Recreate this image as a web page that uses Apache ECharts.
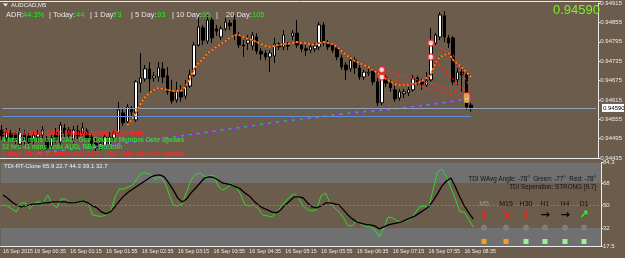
<!DOCTYPE html>
<html>
<head>
<meta charset="utf-8">
<script src="https://cdn.jsdelivr.net/npm/echarts@6/dist/echarts.min.js"></script>
<style>
html, body { margin: 0; padding: 0; background: #6b5c4c; }
#chart { width: 625px; height: 258px; }
</style>
</head>
<body>
<div id="chart"></div>
<script>
// M5 bars, 16 Sep 2015 from 00:00; extra empty slots on the right (chart shift)
var slotCount = 134;
var lastBar = 105;
var times = [];
for ( var i = 0; i < slotCount; i++ ) {
    var m = i * 5;
    times.push( ( '0' + Math.floor( m / 60 ) ).slice( -2 ) + ':' + ( '0' + m % 60 ).slice( -2 ) );
}

// [open, close, low, high]
var ohlc = [
    [0.94522, 0.94503, 0.94491, 0.94537], [0.94497, 0.94515, 0.94488, 0.94528], [0.94512, 0.94500, 0.94484, 0.94522],
    [0.94509, 0.94491, 0.94478, 0.94519], [0.94478, 0.94515, 0.94469, 0.94528], [0.94509, 0.94491, 0.94472, 0.94522],
    [0.94503, 0.94484, 0.94472, 0.94512], [0.94494, 0.94506, 0.94478, 0.94515], [0.94500, 0.94509, 0.94488, 0.94522],
    [0.94506, 0.94522, 0.94494, 0.94534], [0.94491, 0.94466, 0.94460, 0.94503], [0.94472, 0.94497, 0.94463, 0.94506],
    [0.94515, 0.94491, 0.94481, 0.94528], [0.94484, 0.94537, 0.94472, 0.94547], [0.94528, 0.94512, 0.94500, 0.94540],
    [0.94522, 0.94506, 0.94491, 0.94531], [0.94491, 0.94522, 0.94481, 0.94534], [0.94519, 0.94503, 0.94494, 0.94537],
    [0.94512, 0.94528, 0.94503, 0.94544], [0.94519, 0.94497, 0.94488, 0.94528], [0.94500, 0.94481, 0.94472, 0.94512],
    [0.94481, 0.94466, 0.94457, 0.94497], [0.94469, 0.94481, 0.94460, 0.94491], [0.94469, 0.94500, 0.94463, 0.94509],
    [0.94475, 0.94500, 0.94466, 0.94515], [0.94497, 0.94512, 0.94488, 0.94522], [0.94512, 0.94584, 0.94506, 0.94609],
    [0.94575, 0.94544, 0.94534, 0.94590], [0.94547, 0.94593, 0.94537, 0.94603], [0.94590, 0.94578, 0.94565, 0.94596],
    [0.94553, 0.94671, 0.94547, 0.94677], [0.94667, 0.94683, 0.94637, 0.94760], [0.94680, 0.94711, 0.94671, 0.94723],
    [0.94711, 0.94680, 0.94637, 0.94732], [0.94683, 0.94689, 0.94671, 0.94701], [0.94686, 0.94714, 0.94671, 0.94732],
    [0.94711, 0.94686, 0.94667, 0.94732], [0.94689, 0.94640, 0.94631, 0.94717], [0.94643, 0.94612, 0.94603, 0.94677],
    [0.94615, 0.94640, 0.94606, 0.94671], [0.94640, 0.94624, 0.94609, 0.94661], [0.94627, 0.94658, 0.94618, 0.94677],
    [0.94658, 0.94692, 0.94652, 0.94708], [0.94692, 0.94785, 0.94686, 0.94794], [0.94785, 0.94841, 0.94779, 0.94872],
    [0.94838, 0.94800, 0.94785, 0.94847], [0.94797, 0.94862, 0.94788, 0.94878], [0.94862, 0.94807, 0.94791, 0.94869],
    [0.94835, 0.94828, 0.94813, 0.94847], [0.94810, 0.94835, 0.94800, 0.94844], [0.94835, 0.94856, 0.94828, 0.94869],
    [0.94853, 0.94844, 0.94831, 0.94862], [0.94862, 0.94816, 0.94800, 0.94878], [0.94816, 0.94785, 0.94776, 0.94825],
    [0.94785, 0.94782, 0.94748, 0.94800], [0.94791, 0.94800, 0.94769, 0.94816], [0.94782, 0.94816, 0.94769, 0.94825],
    [0.94810, 0.94766, 0.94757, 0.94822], [0.94766, 0.94757, 0.94738, 0.94776], [0.94760, 0.94748, 0.94738, 0.94769],
    [0.94748, 0.94760, 0.94701, 0.94769], [0.94751, 0.94788, 0.94729, 0.94807], [0.94788, 0.94779, 0.94769, 0.94794],
    [0.94779, 0.94816, 0.94769, 0.94831], [0.94785, 0.94782, 0.94769, 0.94794], [0.94813, 0.94822, 0.94800, 0.94831],
    [0.94822, 0.94785, 0.94776, 0.94862], [0.94785, 0.94773, 0.94763, 0.94794], [0.94773, 0.94769, 0.94751, 0.94785],
    [0.94769, 0.94779, 0.94760, 0.94788], [0.94773, 0.94782, 0.94763, 0.94791], [0.94779, 0.94847, 0.94769, 0.94856],
    [0.94847, 0.94791, 0.94782, 0.94856], [0.94791, 0.94779, 0.94769, 0.94800], [0.94785, 0.94769, 0.94760, 0.94791],
    [0.94776, 0.94748, 0.94738, 0.94782], [0.94745, 0.94717, 0.94708, 0.94754], [0.94723, 0.94708, 0.94677, 0.94732],
    [0.94711, 0.94738, 0.94701, 0.94748], [0.94738, 0.94714, 0.94695, 0.94748], [0.94714, 0.94686, 0.94677, 0.94723],
    [0.94686, 0.94701, 0.94677, 0.94708], [0.94698, 0.94701, 0.94689, 0.94711], [0.94704, 0.94671, 0.94661, 0.94714],
    [0.94671, 0.94606, 0.94596, 0.94683], [0.94606, 0.94686, 0.94599, 0.94698], [0.94683, 0.94667, 0.94655, 0.94692],
    [0.94667, 0.94652, 0.94640, 0.94677], [0.94646, 0.94618, 0.94609, 0.94658], [0.94621, 0.94640, 0.94612, 0.94649],
    [0.94634, 0.94640, 0.94621, 0.94649], [0.94637, 0.94646, 0.94627, 0.94655], [0.94646, 0.94680, 0.94640, 0.94692],
    [0.94683, 0.94667, 0.94658, 0.94689], [0.94671, 0.94664, 0.94646, 0.94680], [0.94661, 0.94674, 0.94655, 0.94701],
    [0.94677, 0.94791, 0.94671, 0.94838], [0.94791, 0.94816, 0.94782, 0.94822], [0.94810, 0.94878, 0.94800, 0.94887],
    [0.94875, 0.94810, 0.94794, 0.94890], [0.94807, 0.94791, 0.94776, 0.94816], [0.94807, 0.94671, 0.94661, 0.94813],
    [0.94677, 0.94701, 0.94661, 0.94714], [0.94701, 0.94692, 0.94640, 0.94720], [0.94692, 0.94593, 0.94584, 0.94701],
    [0.94599, 0.94590, 0.94578, 0.94606]
];

// dotted moving average, starts at bar 28
var maStart = 28;
var maValues = [
    0.94537, 0.94553, 0.94578, 0.94603, 0.94624, 0.94637, 0.94646, 0.94652, 0.94649, 0.94646,
    0.94643, 0.94643, 0.94643, 0.94655, 0.94680, 0.94711, 0.94729, 0.94742, 0.94760, 0.94769,
    0.94779, 0.94788, 0.94797, 0.94807, 0.94816, 0.94816, 0.94810, 0.94804, 0.94800, 0.94794,
    0.94788, 0.94782, 0.94779, 0.94782, 0.94785, 0.94788, 0.94788, 0.94791, 0.94794, 0.94791,
    0.94791, 0.94788, 0.94785, 0.94791, 0.94794, 0.94791, 0.94788, 0.94779, 0.94766, 0.94754,
    0.94745, 0.94735, 0.94729, 0.94723, 0.94717, 0.94708, 0.94698, 0.94689, 0.94680, 0.94671,
    0.94664, 0.94661, 0.94661, 0.94661, 0.94664, 0.94667, 0.94674, 0.94683, 0.94692, 0.94729,
    0.94748, 0.94754, 0.94760, 0.94738, 0.94726, 0.94714, 0.94701, 0.94686
];

// slow purple/green line near the bottom of the price pane [bar, price]
var slowLine = [[8, 0.94450], [22, 0.94472], [35, 0.94494], [48, 0.94519], [62, 0.94547], [71, 0.94562],
    [78, 0.94575], [86, 0.94584], [93, 0.94596], [100, 0.94608], [105, 0.94621]];

// red dashed projections [bar, price]
var projLines = [
    [[85, 0.94708], [105, 0.94630]],
    [[85, 0.94686], [94, 0.94655], [105, 0.94615]],
    [[96, 0.94791], [101, 0.94754], [105, 0.94646]],
    [[96, 0.94748], [105, 0.94624]]
];
var projPoints = [[85, 0.94708], [85, 0.94686], [96, 0.94791], [96, 0.94748]];

var bidPrice = 0.94590;
var levelPrice = 0.94565;

// TDI pane
var rsiGreen = [
    50.4, 49.6, 47.2, 44.8, 52, 52, 47.2, 52, 52.8, 52,
    58.4, 51.2, 48, 55.2, 55.2, 52, 52, 52, 54.4, 52,
    42.4, 41.6, 41.2, 42.4, 44.8, 56.8, 63.2, 63.2, 64.8, 66.4,
    72, 76, 76, 74.4, 70.8, 72.8, 69.6, 60, 50.4, 49.6,
    51.2, 61, 70.4, 75.2, 76, 72.8, 73.6, 74.4, 65.6, 62.4,
    64, 67.2, 64.8, 59.2, 50.4, 49.6, 50.4, 47.2, 42.4, 41.6,
    40.8, 44, 48.8, 52.8, 56.8, 59.2, 56, 49.6, 46.4, 45.6,
    46.4, 57.6, 60, 52, 48, 44.8, 40, 33.6, 33.6, 38.4,
    34.4, 32.8, 32.8, 30.4, 24.8, 32, 40.8, 40, 37.6, 36.8,
    37.6, 39.2, 44, 48.8, 49.6, 48, 62.4, 76.8, 79.2, 72.8,
    64, 55.2, 44.8, 44.8, 38.4, 32.7
];
var signalBlack = [
    58.4, 56, 52.8, 50.4, 48.8, 49.6, 50.4, 51.2, 51.2, 52,
    52, 52.8, 52.8, 52.8, 52.8, 52, 52, 52.8, 53.6, 52,
    49.6, 48, 44.8, 43.2, 44.8, 48.8, 53.6, 57.6, 60.8, 63.2,
    65.6, 68, 70.4, 72.8, 74, 74.4, 72.8, 68, 62.4, 56,
    52.8, 55.2, 60, 64, 68, 72, 72.8, 72.4, 70.4, 68,
    67.2, 66.4, 64.8, 63.2, 60, 57.6, 53.6, 50.4, 48, 46.4,
    44.8, 44, 46.4, 50.4, 53.6, 56.8, 56.8, 56, 52, 48.8,
    48, 49.6, 52, 52, 51.2, 50.4, 46.4, 42.4, 39.2, 36.8,
    35.6, 34.8, 34.4, 33.6, 31.2, 32.8, 34.4, 35.2, 36, 36.8,
    38.4, 40, 41.6, 44, 46.4, 48.8, 53.6, 59.2, 65.6, 69.6,
    72, 64.8, 56.8, 49.6, 44, 39.1
];
var tdiTicks = [17.5, 32, 50, 68, 84.3];
var tdiBand = [32, 68];

var adrParts = [['ADR:', 6, 0], ['44.3%', 23, 1], ['| Today:', 49, 0], ['44', 76, 1], ['| 1 Day:', 90, 0], ['73', 113, 1],
    ['| 5 Day:', 131, 0], ['93', 157, 1], ['| 10 Day:', 172, 0], ['95', 202, 1], ['|', 216, 0], ['20 Day:', 226, 0], ['105', 252, 1]];
var newsLines = [
    ['19 mins since CAD: Manufacturing Sales m/m', '#ff2a2a'],
    ['4 hrs 11 mins until CAD: Gov Council Member Cote Speaks', '#33d633'],
    ['12 hrs 41 mins until AUD: RBA Bulletin', '#33d633'],
    ['1 days 10 hrs 41 mins until AUD: RBA Gov Stevens Speaks', '#ff2a2a']
];
var tfNames = ['M5', 'M15', 'H30', 'H1', 'H4', 'D1'];
var tfArrows = ['↓', '↘', '↓', '→', '→', '↗'];
var tfArrowColors = ['#ff2020', '#ff2020', '#ff2020', '#000000', '#000000', '#22ff22'];
var tfBoxColors = ['#f5a020', '#f5a020', '#9ef09e', '#9ef09e', '#9ef09e', '#9ef09e'];
var tfX = [484, 506, 526, 545, 565, 584];

var FONT = 'Liberation Sans';

function pairs( start, list ) {
    return list.map( function ( v, k ) { return [start + k, v] } );
}
function showTick( idx ) {
    return idx <= lastBar && ( idx === 0 || idx % 8 === 7 );
}

var graphics = [
    { type: 'line', z: 100, shape: { x1: 0, y1: 1.5, x2: 601, y2: 1.5 }, style: { stroke: '#e8e8e8', lineWidth: 1 } },
    { type: 'polygon', z: 100, shape: { points: [[3, 3.5], [8, 3.5], [5.5, 6.5]] }, style: { fill: '#f0f0f0' } },
    { type: 'text', z: 100, x: 11, y: 5.5, style: { text: 'AUDCAD,M5', fill: '#f0f0f0', fontSize: 6, fontFamily: FONT, verticalAlign: 'middle' } },
    { type: 'text', z: 100, x: 600, y: 10.5, style: { text: '0.94590', fill: '#7cf028', fontSize: 13, fontFamily: FONT, align: 'right', verticalAlign: 'middle' } },
    { type: 'text', z: 100, x: 4, y: 166, style: { text: 'TDI-RT-Clone 65.9 22.7 44.3 39.1 32.7', fill: '#f0f0f0', fontSize: 6, fontFamily: FONT, verticalAlign: 'middle' } },
    { type: 'text', z: 100, x: 596, y: 179, style: { text: 'TDI WAvg Angle: -78°  Green: -77°  Red: -78°', fill: '#141414', fontSize: 6.3, fontFamily: FONT, align: 'right', verticalAlign: 'middle' } },
    { type: 'text', z: 100, x: 596, y: 187.5, style: { text: 'TDI Seperation: STRONG [9.7]', fill: '#141414', fontSize: 6.3, fontFamily: FONT, align: 'right', verticalAlign: 'middle' } }
];
adrParts.forEach( function ( p ) {
    graphics.push( { type: 'text', z: 100, x: p[1], y: 15, style: { text: p[0], fill: p[2] ? '#22ee22' : '#e6e6e6', fontSize: 7.5, fontFamily: FONT, verticalAlign: 'middle' } } );
} );
newsLines.forEach( function ( n, k ) {
    graphics.push( { type: 'text', z: 100, x: 2, y: 133 + k * 7, style: { text: n[0], fill: n[1], fontSize: 6.5, fontWeight: 'bold', fontFamily: FONT, verticalAlign: 'middle' } } );
} );
tfNames.forEach( function ( name, k ) {
    var x = tfX[k];
    graphics.push( { type: 'text', z: 100, x: x, y: 204, style: { text: name, fill: k === 0 ? '#9a9a9a' : '#141414', fontSize: 7, fontFamily: FONT, align: 'center', verticalAlign: 'middle' } } );
    graphics.push( { type: 'text', z: 100, x: x, y: 215.5, style: { text: tfArrows[k], fill: tfArrowColors[k], fontSize: 11, fontWeight: 'bold', fontFamily: 'DejaVu Sans', align: 'center', verticalAlign: 'middle' } } );
    graphics.push( { type: 'circle', z: 100, shape: { cx: x, cy: 227.5, r: 2.3 }, style: { fill: '#7a7a7a', stroke: '#8e8e8e', lineWidth: 1 } } );
    graphics.push( { type: 'rect', z: 100, shape: { x: x - 2.5, y: 239, width: 5, height: 5 }, style: { fill: tfBoxColors[k] } } );
} );

var series = [
    {
        name: 'price', type: 'candlestick', xAxisIndex: 0, yAxisIndex: 0, data: ohlc, barWidth: 3, z: 3,
        itemStyle: { color: '#ffffff', color0: '#000000', borderColor: '#000000', borderColor0: '#000000', borderWidth: 1 }
    },
    { type: 'line', xAxisIndex: 0, yAxisIndex: 0, data: slowLine, showSymbol: false, z: 4,
      lineStyle: { color: '#8a32d0', width: 1.6 },
      markLine: {
          silent: true, symbol: 'none', animation: false, label: { show: false },
          data: [
              [{ coord: [0, levelPrice], lineStyle: { color: '#5b8fd8', width: 1, type: 'solid' } }, { coord: [lastBar, levelPrice] }],
              [{ coord: [0, bidPrice], lineStyle: { color: '#8ea2c2', width: 1, type: 'solid' } }, { coord: [slotCount - 1, bidPrice] }]
          ]
      } },
    { type: 'line', xAxisIndex: 0, yAxisIndex: 0, data: slowLine, showSymbol: false, z: 4,
      lineStyle: { color: '#2fc02f', width: 1.6, type: [3, 5] } },
    { type: 'line', xAxisIndex: 0, yAxisIndex: 0, data: pairs( maStart, maValues ), showSymbol: false, z: 5,
      lineStyle: { color: '#a82a10', width: 1.6 } },
    { type: 'line', xAxisIndex: 0, yAxisIndex: 0, data: pairs( maStart, maValues ), showSymbol: false, z: 5,
      lineStyle: { color: '#f39a2a', width: 1.6, type: [2, 2] } }
];
projLines.forEach( function ( pl ) {
    series.push( { type: 'line', xAxisIndex: 0, yAxisIndex: 0, data: pl, showSymbol: false, z: 6,
        lineStyle: { color: '#ff2a2a', width: 1, type: [3, 2] } } );
} );
series.push( { type: 'scatter', xAxisIndex: 0, yAxisIndex: 0, data: projPoints, symbol: 'circle', symbolSize: 6, z: 7,
    itemStyle: { color: '#ffffff', borderColor: '#ff2020', borderWidth: 1.5 } } );
series.push( { type: 'scatter', xAxisIndex: 0, yAxisIndex: 0, data: [[104, 0.94621]], symbol: 'roundRect', symbolSize: [5, 9], z: 7,
    itemStyle: { color: '#ffd27a', borderColor: '#f0a030', borderWidth: 1 } } );
series.push( {
    type: 'line', xAxisIndex: 1, yAxisIndex: 1, data: rsiGreen, showSymbol: false, z: 3,
    lineStyle: { color: '#2fd82f', width: 1 },
    markArea: { silent: true, itemStyle: { color: '#6b5c4c' }, data: [[{ yAxis: tdiBand[0] }, { yAxis: tdiBand[1] }]] },
    markLine: { silent: true, symbol: 'none', label: { show: false }, lineStyle: { color: '#8f806f', type: [2, 2], width: 1 }, data: [{ yAxis: 50 }] }
} );
series.push( { type: 'line', xAxisIndex: 1, yAxisIndex: 1, data: signalBlack, showSymbol: false, z: 4,
    lineStyle: { color: '#000000', width: 1.3 } } );

var axisColor = '#ececec';
var option = {
    animation: false,
    backgroundColor: '#6b5c4c',
    textStyle: { fontFamily: FONT },
    grid: [
        { left: 0, right: 24, top: 3, height: 155 },
        { left: 0, right: 24, top: 162.6, height: 83.4, show: true, backgroundColor: '#707070', borderWidth: 0 }
    ],
    xAxis: [
        { type: 'category', gridIndex: 0, data: times, axisLine: { lineStyle: { color: axisColor } },
          axisTick: { show: false }, axisLabel: { show: false }, splitLine: { show: false } },
        { type: 'category', gridIndex: 1, data: times, axisLine: { lineStyle: { color: axisColor } },
          axisTick: { interval: showTick, alignWithLabel: true, length: 3, lineStyle: { color: axisColor } },
          axisLabel: { interval: showTick, align: 'left', margin: 3, fontSize: 5.3, color: axisColor,
              showMinLabel: true, hideOverlap: false,
              formatter: function ( v, idx ) { return idx === 0 ? '16 Sep 2015' : '16 Sep ' + v } },
          splitLine: { show: false } }
    ],
    yAxis: [
        { type: 'value', gridIndex: 0, position: 'right', min: 0.94435, max: 0.94915, interval: 0.0006,
          axisLine: { show: true, lineStyle: { color: axisColor } },
          axisTick: { show: true, length: 2, lineStyle: { color: axisColor } },
          axisLabel: { fontSize: 6, color: axisColor, margin: 2, showMinLabel: true, showMaxLabel: true,
              formatter: function ( v ) { return v.toFixed( 5 ) } },
          splitLine: { show: false } },
        { type: 'value', gridIndex: 1, position: 'right', min: 17.5, max: 84.3,
          axisLine: { show: true, lineStyle: { color: axisColor } },
          axisTick: { show: true, length: 2, customValues: tdiTicks, lineStyle: { color: axisColor } },
          axisLabel: { fontSize: 6, color: axisColor, margin: 2, customValues: tdiTicks },
          splitLine: { show: false } }
    ],
    series: series,
    graphic: graphics
};

var chart = echarts.init( document.getElementById( 'chart' ), null, { renderer: 'canvas' } );
chart.setOption( option );

// current bid tag on the price scale
var bidY = chart.convertToPixel( { yAxisIndex: 0 }, bidPrice );
graphics.push( { type: 'rect', z: 120, shape: { x: 602, y: bidY - 4, width: 22, height: 8 }, style: { fill: '#ffffff' } } );
graphics.push( { type: 'text', z: 121, x: 603, y: bidY, style: { text: bidPrice.toFixed( 5 ), fill: '#000000', fontSize: 6, fontFamily: FONT, verticalAlign: 'middle' } } );
chart.setOption( { graphic: graphics } );
</script>
</body>
</html>
